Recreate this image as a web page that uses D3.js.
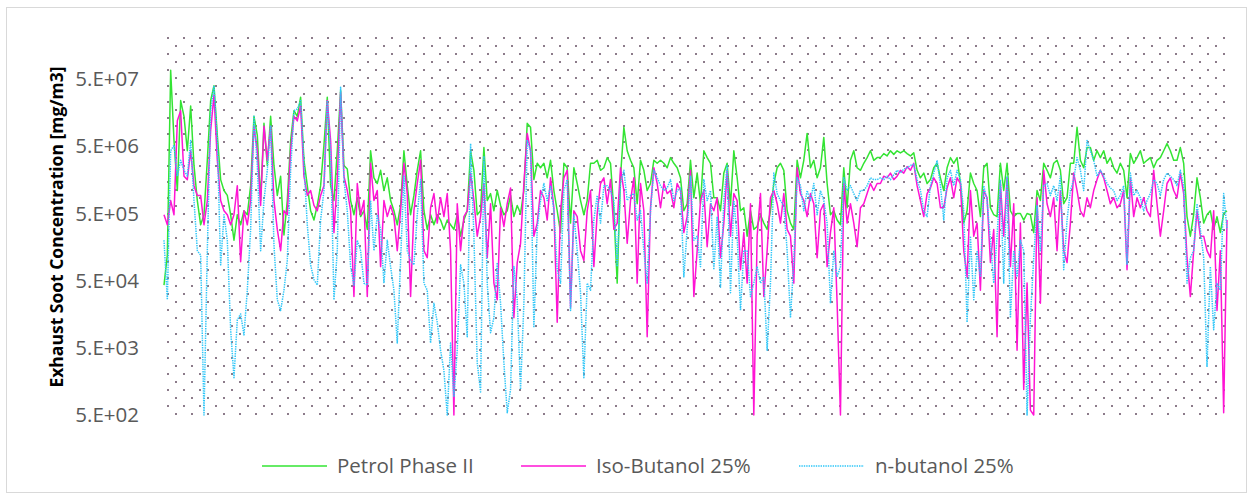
<!DOCTYPE html>
<html>
<head>
<meta charset="utf-8">
<script src="https://cdn.jsdelivr.net/npm/d3@7/dist/d3.min.js"></script>
<style>
  html, body { margin: 0; padding: 0; background: #ffffff; }
  svg { display: block; }
  text { font-family: "Open Sans", "DejaVu Sans", sans-serif; }
</style>
</head>
<body>
<svg id="chart" width="1253" height="500"></svg>
<script>
// Exhaust soot concentration per sample, three fuels
const seriesNames = ["Petrol Phase II", "Iso-Butanol 25%", "n-butanol 25%"];

const petrol = [
  4.3e4, 1.2e5, 6.8e7, 6.1e6, 1.1e6, 2.4e7, 1.4e7, 4.3e6, 2.0e7, 2.6e6, 7.8e5, 3.4e5, 4.8e5, 3.1e6, 2.4e7, 4.0e7, 7.3e6, 1.6e6, 1.1e6, 9.3e5,
  4.8e5, 2.0e5, 4.8e5, 3.4e5, 5.5e5, 4.8e5, 1.3e6, 1.4e7, 7.3e6, 7.8e5, 1.1e7, 2.6e6, 1.4e7, 2.6e6, 9.3e5, 1.8e6, 2.4e5, 7.8e5, 6.1e6, 1.7e7,
  1.4e7, 2.7e7, 3.1e6, 1.3e6, 5.5e5, 4.0e5, 6.6e5, 1.3e6, 5.2e6, 2.7e7, 1.3e6, 7.8e5, 4.3e6, 3.4e7, 2.6e6, 2.3e6, 7.8e5, 4.8e5, 8.6e5, 4.5e5,
  5.5e5, 2.9e5, 4.3e6, 1.7e6, 1.4e6, 2.2e6, 1.1e6, 1.7e6, 7.8e5, 5.5e5, 3.4e5, 6.6e5, 4.3e6, 1.3e6, 4.8e5, 9.3e5, 2.2e6, 4.3e6, 5.5e5, 2.9e5,
  4.8e5, 3.4e5, 4.8e5, 4.0e5, 2.9e5, 4.0e5, 3.4e5, 2.9e5, 4.8e5, 2.3e5, 4.0e5, 5.5e5, 4.3e6, 2.2e6, 4.8e5, 5.5e5, 4.8e6, 7.8e5, 9.9e5, 5.5e5,
  1.1e6, 6.6e5, 4.8e5, 5.5e5, 9.3e5, 4.5e5, 6.6e5, 5.0e5, 1.1e6, 1.1e7, 9.6e6, 1.6e6, 2.8e6, 2.4e6, 2.8e6, 1.7e6, 3.1e6, 1.1e6, 5.5e5, 2.6e5,
  2.8e6, 2.4e6, 3.6e5, 2.4e6, 1.4e6, 7.8e5, 4.8e5, 7.8e5, 2.8e6, 2.8e6, 3.1e6, 2.2e6, 2.4e6, 3.4e6, 2.8e6, 5.5e5, 4.6e4, 1.8e6, 9.6e6, 4.3e6,
  3.1e6, 2.4e6, 7.0e5, 3.1e6, 2.2e6, 1.1e6, 1.4e6, 3.1e6, 2.8e6, 3.1e6, 2.8e6, 2.4e6, 3.4e6, 2.8e6, 2.4e6, 1.7e6, 5.5e5, 7.0e5, 3.1e6, 8.6e5,
  2.0e6, 7.0e5, 4.3e6, 3.4e6, 2.8e6, 8.6e5, 8.6e5, 5.5e5, 2.0e6, 2.8e6, 6.6e5, 4.3e6, 1.7e6, 5.5e5, 6.1e5, 2.3e5, 5.5e5, 2.9e5, 3.2e5, 4.8e5,
  3.6e5, 2.9e5, 5.5e5, 1.4e6, 2.4e6, 2.8e6, 2.2e6, 5.5e5, 3.6e5, 2.9e5, 3.1e6, 1.7e6, 3.1e6, 7.8e6, 2.4e6, 3.1e6, 1.7e6, 2.4e6, 6.8e6, 1.4e6,
  4.8e5, 5.5e5, 4.0e5, 3.4e5, 2.4e6, 6.1e5, 3.1e6, 4.3e6, 2.4e6, 2.2e6, 2.8e6, 3.4e6, 4.3e6, 3.1e6, 3.4e6, 3.4e6, 3.9e6, 3.6e6, 4.3e6, 3.8e6,
  4.3e6, 4.0e6, 4.3e6, 3.9e6, 3.6e6, 4.0e6, 2.2e6, 1.7e6, 2.0e6, 1.4e6, 1.6e6, 2.4e6, 2.8e6, 1.7e6, 1.1e6, 2.4e6, 3.4e6, 2.8e6, 3.4e6, 1.4e6,
  3.6e5, 5.5e5, 2.0e6, 1.4e6, 1.1e6, 4.5e5, 2.4e6, 2.8e6, 6.1e5, 4.8e5, 4.5e5, 2.8e6, 1.1e6, 2.8e6, 5.5e5, 4.5e5, 5.0e5, 5.0e5, 4.0e5, 5.0e5,
  4.8e5, 2.6e5, 1.1e6, 7.8e5, 2.8e6, 2.2e6, 1.7e6, 2.8e6, 3.1e6, 2.2e6, 7.0e5, 8.6e5, 2.8e6, 2.8e6, 9.6e6, 3.1e6, 2.4e6, 4.8e6, 4.8e6, 3.1e6,
  4.3e6, 3.4e6, 4.3e6, 2.8e6, 3.4e6, 2.4e6, 2.0e6, 2.8e6, 2.2e6, 8.6e5, 3.9e6, 2.8e6, 3.4e6, 4.3e6, 2.8e6, 3.1e6, 3.4e6, 2.4e6, 3.1e6, 3.4e6,
  4.3e6, 5.5e6, 4.3e6, 3.1e6, 3.1e6, 4.8e6, 2.8e6, 4.5e5, 2.3e5, 4.8e5, 1.7e6, 8.6e5, 3.6e5, 4.8e5, 5.5e5, 2.9e5, 4.5e5, 2.6e5, 5.0e5, 5.5e5
];

const isoButanol = [
  4.8e5, 3.4e5, 7.8e5, 4.8e5, 1.2e7, 1.7e7, 1.8e6, 1.6e6, 4.3e6, 1.3e6, 9.3e5, 9.3e5, 3.4e5, 7.8e5, 8.6e6, 2.9e7, 3.1e6, 7.8e5, 5.5e5, 4.8e5,
  3.4e5, 4.8e5, 1.3e6, 9.6e4, 5.5e5, 3.4e5, 7.8e5, 1.0e7, 4.3e6, 6.6e5, 1.0e7, 3.1e6, 1.0e7, 7.8e5, 2.9e5, 1.4e5, 5.5e5, 4.8e5, 4.3e6, 1.4e7,
  1.2e7, 2.0e7, 1.8e6, 9.3e5, 1.1e6, 6.6e5, 5.5e5, 9.3e5, 1.3e6, 2.4e7, 6.1e6, 2.6e5, 1.6e6, 3.2e7, 1.8e6, 1.1e6, 5.5e5, 2.9e4, 1.4e6, 4.8e5,
  7.8e5, 2.9e4, 2.8e6, 7.8e5, 1.1e6, 8.1e4, 7.8e5, 4.5e5, 6.6e5, 4.5e5, 1.4e5, 5.5e5, 2.8e6, 9.9e5, 2.9e4, 5.5e5, 1.4e6, 3.1e6, 1.4e5, 1.1e5,
  6.1e5, 9.9e5, 3.6e5, 8.6e5, 4.5e5, 9.9e5, 1.4e5, 5.0e2, 7.0e5, 1.4e5, 4.5e5, 5.5e5, 2.0e6, 7.8e5, 2.3e5, 4.5e5, 1.4e6, 1.1e5, 7.0e5, 4.6e4,
  2.6e4, 6.1e5, 3.2e5, 7.0e5, 1.2e6, 1.4e4, 9.3e4, 1.8e5, 1.4e6, 7.8e6, 4.3e6, 2.3e5, 3.6e5, 1.1e6, 8.6e5, 4.0e5, 1.7e6, 6.1e5, 1.2e4, 5.5e5,
  1.7e6, 2.2e6, 2.0e4, 5.5e5, 4.5e5, 1.4e5, 1.0e5, 5.5e5, 1.1e6, 8.1e4, 5.0e5, 1.4e6, 1.7e6, 7.0e5, 1.6e6, 2.9e5, 3.6e5, 2.4e6, 1.1e6, 1.8e5,
  7.8e5, 1.7e6, 4.6e4, 1.4e6, 5.5e5, 7.3e3, 6.1e5, 2.4e6, 1.4e6, 6.1e5, 1.4e6, 9.9e5, 1.1e6, 6.1e5, 1.4e6, 1.1e6, 2.6e5, 4.5e5, 2.2e6, 2.9e4,
  1.4e5, 7.8e5, 1.1e6, 1.6e5, 7.0e5, 5.5e5, 8.6e5, 1.1e5, 3.6e5, 2.2e6, 2.3e5, 9.9e5, 7.8e5, 7.3e4, 2.6e5, 4.6e4, 7.0e5, 5.0e2, 2.3e5, 9.9e5,
  2.9e4, 1.4e5, 8.6e5, 1.1e6, 7.0e5, 3.6e5, 9.9e5, 2.9e5, 2.3e5, 4.6e4, 2.4e6, 9.9e5, 7.8e5, 4.5e5, 9.9e5, 7.0e5, 1.1e5, 5.5e5, 7.0e5, 8.1e4,
  2.6e5, 6.1e5, 2.3e4, 5.0e2, 1.4e6, 3.6e5, 7.0e5, 3.6e5, 1.6e5, 6.1e5, 7.0e5, 9.9e5, 1.4e6, 1.1e6, 1.4e6, 1.4e6, 1.8e6, 1.7e6, 2.0e6, 1.6e6,
  1.8e6, 2.2e6, 2.0e6, 2.5e6, 2.2e6, 2.8e6, 1.3e6, 7.8e5, 4.5e5, 9.9e5, 1.2e6, 1.7e6, 1.4e6, 6.1e5, 6.1e5, 1.2e6, 1.7e6, 8.6e5, 1.7e6, 1.4e6,
  1.4e5, 5.7e4, 1.1e6, 2.3e5, 3.6e5, 3.6e4, 1.1e6, 8.6e5, 9.3e4, 2.9e5, 7.3e3, 1.4e6, 2.3e5, 1.7e6, 8.1e4, 7.0e5, 4.6e3, 3.6e5, 1.2e3, 4.6e4,
  5.9e2, 5.0e2, 8.6e5, 2.3e4, 2.2e6, 7.0e5, 4.5e5, 8.6e5, 1.4e5, 1.1e6, 1.4e5, 9.3e4, 3.6e5, 2.0e6, 1.1e6, 5.5e5, 4.5e5, 8.6e5, 6.1e5, 1.1e6,
  1.6e6, 2.2e6, 1.7e6, 1.1e6, 7.0e5, 8.6e5, 6.1e5, 7.0e5, 1.1e6, 7.3e4, 1.7e6, 4.5e5, 8.6e5, 6.1e5, 8.6e5, 5.5e5, 4.5e5, 2.2e6, 7.0e5, 2.3e5,
  5.5e5, 1.4e6, 1.7e6, 1.1e6, 8.6e5, 2.0e6, 9.9e5, 1.1e5, 2.9e4, 1.4e5, 5.5e5, 2.3e5, 2.3e5, 1.4e5, 1.1e5, 5.5e5, 1.8e4, 1.4e5, 5.4e2, 4.0e5
];

const nButanol = [
  2.0e5, 2.6e4, 4.3e6, 5.2e6, 1.8e6, 3.1e6, 2.2e6, 1.8e6, 6.1e6, 7.8e5, 1.4e5, 1.2e5, 5.0e2, 1.4e5, 1.7e7, 4.0e7, 6.1e6, 8.6e4, 4.8e5, 2.0e5,
  9.3e3, 1.8e3, 1.3e4, 1.6e4, 7.8e3, 3.6e4, 2.9e5, 1.4e7, 2.6e6, 1.4e5, 7.8e5, 2.2e6, 1.0e7, 1.7e5, 2.6e4, 1.8e4, 3.6e4, 1.0e5, 2.2e6, 1.7e7,
  1.8e7, 2.4e7, 2.6e6, 3.4e5, 8.6e4, 5.2e4, 4.3e4, 4.0e5, 1.1e6, 2.4e7, 4.3e6, 2.6e4, 1.4e5, 3.8e7, 1.6e6, 5.5e5, 8.1e4, 4.3e4, 2.0e5, 1.4e5,
  4.6e4, 4.3e4, 7.8e5, 1.4e5, 4.8e5, 2.9e5, 4.6e4, 2.0e5, 8.1e4, 3.6e4, 5.9e3, 1.0e5, 1.8e6, 1.4e5, 1.0e5, 8.6e4, 4.8e5, 1.6e6, 4.6e4, 3.6e4,
  5.9e3, 2.3e4, 1.2e4, 4.6e3, 2.3e3, 5.0e2, 5.9e3, 9.3e2, 4.6e3, 8.6e4, 4.6e4, 7.3e3, 5.5e6, 2.3e5, 3.0e3, 1.1e3, 3.6e6, 4.6e4, 8.4e3, 1.4e4,
  9.3e4, 2.3e4, 3.0e3, 5.4e2, 1.2e3, 8.1e4, 2.6e4, 1.2e3, 2.3e4, 6.1e6, 4.3e6, 1.0e4, 2.9e5, 7.8e5, 1.4e6, 7.8e5, 1.3e6, 5.5e5, 7.3e4, 4.6e4,
  1.1e6, 1.6e6, 1.8e4, 4.8e5, 1.4e5, 3.3e4, 1.8e3, 4.6e4, 3.6e4, 4.0e5, 9.3e5, 3.6e5, 1.3e6, 1.3e6, 1.1e6, 7.8e5, 8.1e4, 1.4e6, 2.2e6, 7.8e5,
  9.3e5, 9.9e5, 4.0e5, 5.5e5, 1.4e5, 4.6e4, 5.5e5, 2.2e6, 1.7e6, 1.3e6, 1.1e6, 1.2e6, 1.6e6, 7.8e5, 1.1e6, 1.2e6, 5.7e4, 2.9e5, 1.8e6, 2.0e5,
  2.3e5, 8.1e4, 1.6e6, 7.8e5, 1.1e6, 7.3e4, 4.5e5, 4.0e4, 7.8e5, 2.6e6, 3.3e4, 7.8e5, 2.3e5, 1.8e4, 1.4e5, 1.4e5, 2.9e4, 4.6e4, 8.1e4, 4.6e4,
  5.7e4, 4.6e3, 4.6e4, 2.0e6, 9.9e5, 7.8e5, 6.6e5, 1.4e5, 1.4e4, 1.0e5, 1.7e6, 1.3e6, 5.5e5, 1.1e6, 7.8e5, 1.4e6, 4.8e5, 1.1e6, 7.8e5, 3.6e5,
  2.3e4, 1.4e5, 5.7e4, 8.1e4, 1.7e6, 1.1e6, 1.3e6, 9.9e5, 7.8e5, 1.1e6, 1.1e6, 1.3e6, 1.7e6, 1.6e6, 1.6e6, 1.7e6, 1.6e6, 1.8e6, 1.6e6, 1.9e6,
  2.2e6, 2.0e6, 2.3e6, 2.4e6, 2.6e6, 2.7e6, 1.6e6, 1.1e6, 5.5e5, 4.5e5, 1.3e6, 2.0e6, 3.1e6, 1.3e6, 4.0e5, 1.7e6, 2.2e6, 1.3e6, 2.2e6, 1.6e6,
  5.5e5, 1.2e4, 2.3e5, 2.6e4, 1.4e5, 5.7e4, 1.3e6, 7.8e5, 2.0e5, 4.6e4, 2.3e5, 1.6e6, 4.6e4, 1.8e6, 1.4e4, 1.4e5, 5.7e4, 2.0e5, 1.4e5, 5.0e2,
  1.4e4, 1.1e5, 6.6e5, 1.4e5, 1.3e6, 1.4e6, 9.3e5, 1.3e6, 7.8e5, 1.8e6, 7.3e4, 4.0e5, 1.1e6, 1.6e6, 3.4e6, 2.2e6, 1.1e6, 6.1e6, 4.3e6, 3.1e6,
  1.8e6, 2.2e6, 1.8e6, 1.4e6, 1.2e6, 1.1e6, 7.8e5, 9.3e5, 1.3e6, 8.6e4, 2.0e6, 9.3e5, 1.1e6, 8.6e5, 5.5e5, 7.8e5, 9.9e5, 1.6e6, 1.4e6, 9.3e5,
  1.6e6, 2.0e6, 1.8e6, 1.6e6, 1.3e6, 2.2e6, 1.3e6, 4.6e4, 1.1e5, 1.4e5, 7.0e5, 2.9e5, 1.1e5, 2.6e3, 8.1e4, 9.3e3, 4.6e4, 3.6e4, 9.9e5, 2.9e5
];

const yTickValues = [5e2, 5e3, 5e4, 5e5, 5e6, 5e7];
const yTickLabels = ["5.E+02", "5.E+03", "5.E+04", "5.E+05", "5.E+06", "5.E+07"];
const yDomain = [5e2, 2.2e8];

const seriesColors = ["#33e433", "#ff14d4", "#2ec6f8"];
const seriesDash = [null, null, "1.4 1"];

// ---------- layout ----------
const plot = { left: 164, right: 1227, top: 36, bottom: 415 };

const svg = d3.select("#chart");

// chart area border
svg.append("rect")
  .attr("x", 6.5).attr("y", 7.5)
  .attr("width", 1240).attr("height", 485)
  .attr("fill", "#ffffff")
  .attr("stroke", "#d9d9d9").attr("stroke-width", 1);

// dotted pattern fill for the plot area
const defs = svg.append("defs");
const pat = defs.append("pattern")
  .attr("id", "dots")
  .attr("patternUnits", "userSpaceOnUse")
  .attr("x", 167).attr("y", 37)
  .attr("width", 16).attr("height", 16);
pat.append("rect").attr("x", 0).attr("y", 0).attr("width", 2).attr("height", 2).attr("fill", "#8c7b8a");
pat.append("rect").attr("x", 8).attr("y", 8).attr("width", 2).attr("height", 2).attr("fill", "#8c7b8a");

defs.append("clipPath").attr("id", "plotClip")
  .append("rect")
  .attr("x", plot.left - 2).attr("y", plot.top - 2)
  .attr("width", plot.right - plot.left + 4)
  .attr("height", plot.bottom - plot.top + 4);

svg.append("rect")
  .attr("x", plot.left).attr("y", plot.top)
  .attr("width", plot.right - plot.left)
  .attr("height", plot.bottom - plot.top)
  .attr("fill", "url(#dots)");

// ---------- scales ----------
const n = petrol.length;
const x = d3.scaleLinear().domain([0, n - 1]).range([plot.left, plot.right]);
const y = d3.scaleLog().domain(yDomain).range([plot.bottom, plot.top]);

// ---------- y axis ----------
const yAxis = d3.axisLeft(y)
  .tickValues(yTickValues)
  .tickFormat((d, i) => yTickLabels[i])
  .tickSize(0)
  .tickPadding(0);

const gy = svg.append("g")
  .attr("transform", `translate(139,0)`)
  .call(yAxis);
gy.select(".domain").remove();
gy.selectAll("text")
  .attr("fill", "#595959")
  .style("font-size", "20.5px")
  .style("font-family", "'Open Sans', sans-serif");

svg.append("text")
  .attr("transform", "rotate(-90)")
  .attr("x", -227).attr("y", 56)
  .attr("text-anchor", "middle")
  .attr("dominant-baseline", "central")
  .attr("fill", "#000000")
  .style("font-size", "17.5px")
  .style("font-weight", "700")
  .text("Exhaust Soot Concentration [mg/m3]");

// ---------- series ----------
const allSeries = [petrol, isoButanol, nButanol];
const line = d3.line()
  .x((d, i) => x(i))
  .y(d => y(Math.max(d, yDomain[0])));

const gLines = svg.append("g").attr("clip-path", "url(#plotClip)");
allSeries.forEach((vals, k) => {
  gLines.append("path")
    .datum(vals)
    .attr("fill", "none")
    .attr("stroke", seriesColors[k])
    .attr("stroke-width", 1.5)
    .attr("stroke-linejoin", "round")
    .attr("stroke-dasharray", seriesDash[k])
    .attr("d", line);
});

// ---------- legend ----------
const legendY = 466;
const legendItems = [
  { lineX: 262, textX: 337 },
  { lineX: 521, textX: 596 },
  { lineX: 799, textX: 875 }
];
const gLeg = svg.append("g");
legendItems.forEach((it, k) => {
  gLeg.append("line")
    .attr("x1", it.lineX).attr("x2", it.lineX + 65)
    .attr("y1", legendY).attr("y2", legendY)
    .attr("stroke", seriesColors[k])
    .attr("stroke-width", 1.5)
    .attr("stroke-dasharray", seriesDash[k]);
  gLeg.append("text")
    .attr("x", it.textX).attr("y", legendY)
    .attr("dy", "0.36em")
    .attr("fill", "#595959")
    .style("font-size", "20.5px")
    .text(seriesNames[k]);
});
</script>
</body>
</html>
